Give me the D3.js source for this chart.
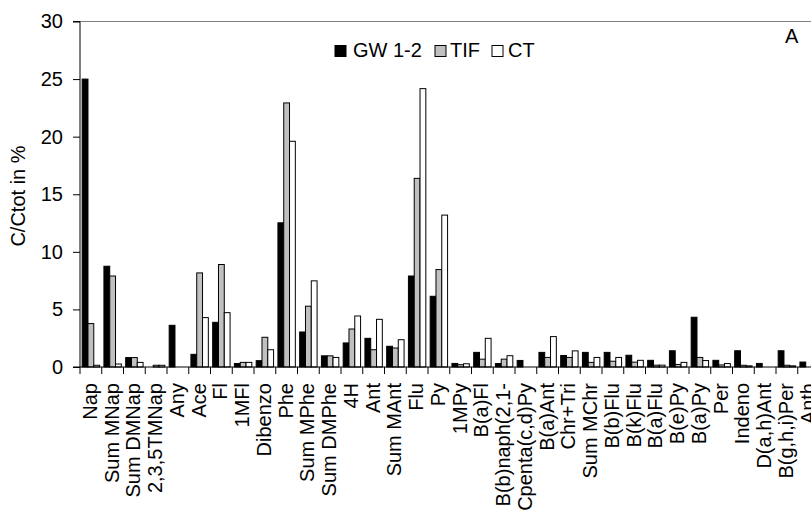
<!DOCTYPE html>
<html>
<head>
<meta charset="utf-8">
<script src="https://cdn.jsdelivr.net/npm/d3@7/dist/d3.min.js"></script>
<style>
  html, body { margin: 0; padding: 0; background: #fff; }
  svg { display: block; font-family: "Liberation Sans", Arial, sans-serif; }
</style>
</head>
<body>
<svg id="chart" width="811" height="515"></svg>
<script>
const categories = ["Nap","Sum MNap","Sum DMNap","2,3,5TMNap","Any","Ace","Fl","1MFl","Dibenzo","Phe",
  "Sum MPhe","Sum DMPhe","4H","Ant","Sum MAnt","Flu","Py","1MPy","B(a)Fl","B(b)naph(2,1-",
  "Cpenta(c,d)Py","B(a)Ant","Chr+Tri","Sum MChr","B(b)Flu","B(k)Flu","B(a)Flu","B(e)Py","B(a)Py","Per",
  "Indeno","D(a,h)Ant","B(g,h,i)Per","Anth"];
const seriesNames = ["GW 1-2","TIF","CT"];
const gw  = [25.0,8.75,0.82,0,3.62,1.1,3.88,0.3,0.55,12.52,3.04,0.97,2.09,2.49,1.8,7.9,6.14,0.31,1.27,0.3,
  0.57,1.27,1.0,1.27,1.27,1.02,0.58,1.41,4.32,0.58,1.41,0.31,1.41,0.43];
const tif = [3.77,7.9,0.82,0.15,0,8.17,8.9,0.4,2.58,22.93,5.28,0.97,3.3,1.5,1.65,16.38,8.46,0.2,0.68,0.68,
  0,0.83,0.83,0.4,0.5,0.42,0.16,0.22,0.83,0.18,0.15,0,0.15,0];
const ct  = [0.15,0.26,0.4,0.15,0,4.29,4.72,0.4,1.5,19.6,7.48,0.83,4.43,4.14,2.37,24.17,13.19,0.28,2.49,0.98,
  0,2.64,1.4,0.83,0.83,0.58,0.16,0.4,0.56,0.3,0.1,0,0.1,0];
const yTicks = [0,5,10,15,20,25,30];
const seriesValues = [gw, tif, ct];
const seriesFill = ["#000000","#c0c0c0","#ffffff"];

const FS = 20;
const svg = d3.select("#chart");
const mLeft = 80, mTop = 21.5, mBottom = 367, step = 21.75;
const mRight = mLeft + step * categories.length;

const x0 = d3.scaleBand().domain(categories).range([mLeft, mRight]).paddingInner(0).paddingOuter(0);
const x1 = d3.scaleBand().domain(seriesNames).range([0, x0.bandwidth()]).paddingInner(0).paddingOuter(0.375);
const y = d3.scaleLinear().domain([0, 30]).range([mBottom, mTop]);

// top frame line
svg.append("line").attr("x1", mLeft).attr("x2", mRight).attr("y1", mTop).attr("y2", mTop)
  .attr("stroke", "#808080").attr("stroke-width", 1);

// bars
const data = [];
categories.forEach((c, i) => seriesNames.forEach((s, j) => data.push({c, s, v: seriesValues[j][i], j})));
svg.append("g").selectAll("rect").data(data.filter(d => d.v > 0)).join("rect")
  .attr("x", d => x0(d.c) + x1(d.s))
  .attr("y", d => y(d.v))
  .attr("width", x1.bandwidth())
  .attr("height", d => y(0) - y(d.v))
  .attr("fill", d => seriesFill[d.j])
  .attr("stroke", "#000").attr("stroke-width", 1);

// y axis
const yAxis = d3.axisLeft(y).tickValues(yTicks).tickSize(7).tickPadding(10);
const gy = svg.append("g").attr("transform", `translate(${mLeft},0)`).call(yAxis);
gy.select(".domain").attr("stroke", "#000").attr("d", `M-7,${mTop}H0V${mBottom}H-7`);
gy.selectAll("text").attr("font-size", FS).attr("fill", "#000").attr("font-family", "Liberation Sans, Arial, sans-serif");

// x axis line and ticks at band boundaries
svg.append("line").attr("x1", mLeft).attr("x2", mRight).attr("y1", mBottom).attr("y2", mBottom).attr("stroke", "#000");
svg.append("g").selectAll("line").data(categories).join("line")
  .attr("x1", d => x0(d)).attr("x2", d => x0(d))
  .attr("y1", mBottom).attr("y2", mBottom + 7).attr("stroke", "#000");

// x labels
svg.append("g").selectAll("text").data(categories).join("text")
  .attr("transform", d => `translate(${x0(d) + x0.bandwidth() / 2},${mBottom + 16}) rotate(-90)`)
  .attr("text-anchor", "end").attr("dy", "0.3em")
  .attr("font-size", FS).attr("fill", "#000")
  .text(d => d);

// y title
svg.append("text").attr("transform", "translate(25,196) rotate(-90)")
  .attr("text-anchor", "middle").attr("font-size", FS).text("C/Ctot in %");

// legend
const legendX = [335, 435, 492];
const legendTextX = [353, 450, 508];
const lg = svg.append("g");
seriesNames.forEach((s, i) => {
  lg.append("rect").attr("x", legendX[i]).attr("y", 45.5).attr("width", 11).attr("height", 11)
    .attr("fill", seriesFill[i]).attr("stroke", "#000");
  lg.append("text").attr("x", legendTextX[i]).attr("y", 56.5).attr("font-size", FS).text(s);
});

// panel label
svg.append("text").attr("x", 785).attr("y", 43).attr("font-size", FS).text("A");
</script>
</body>
</html>
